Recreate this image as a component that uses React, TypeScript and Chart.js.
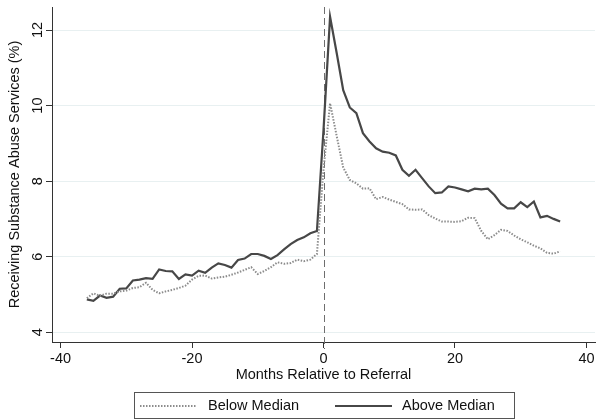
import React, { useEffect, useRef } from "react";
import { Chart, registerables } from "chart.js";

Chart.register(...registerables);

// ---- data ----
const MONTHS = [
  -36, -35, -34, -33, -32, -31, -30, -29, -28, -27, -26, -25, -24, -23, -22, -21, -20, -19, -18,
  -17, -16, -15, -14, -13, -12, -11, -10, -9, -8, -7, -6, -5, -4, -3, -2, -1, 0, 1, 2, 3, 4, 5, 6,
  7, 8, 9, 10, 11, 12, 13, 14, 15, 16, 17, 18, 19, 20, 21, 22, 23, 24, 25, 26, 27, 28, 29, 30, 31,
  32, 33, 34, 35, 36,
];

const BELOW_MEDIAN = [
  4.9, 5.03, 4.96, 5.02, 5.02, 5.08, 5.1, 5.17, 5.19, 5.31, 5.12, 5.03, 5.08, 5.12, 5.17, 5.23,
  5.39, 5.49, 5.5, 5.42, 5.45, 5.47, 5.52, 5.58, 5.65, 5.72, 5.54, 5.62, 5.72, 5.85, 5.81, 5.83,
  5.92, 5.88, 5.92, 6.07, 8.3, 10.06, 9.2, 8.36, 8.03, 7.94, 7.8, 7.81, 7.52, 7.58, 7.51, 7.45,
  7.39, 7.25, 7.24, 7.25, 7.1, 7.01, 6.93, 6.93, 6.92, 6.94, 7.03, 7.02, 6.68, 6.46, 6.57, 6.71,
  6.68, 6.56, 6.46, 6.38, 6.29, 6.22, 6.1, 6.08, 6.14,
];

const ABOVE_MEDIAN = [
  4.87, 4.83, 4.97, 4.91, 4.94, 5.15, 5.16, 5.37, 5.39, 5.43, 5.41, 5.66, 5.62, 5.61, 5.41, 5.53,
  5.5, 5.63, 5.57, 5.71, 5.82, 5.78, 5.71, 5.91, 5.95, 6.07, 6.07, 6.02, 5.94, 6.04, 6.19, 6.33,
  6.44, 6.51, 6.62, 6.68, 9.35, 12.35, 11.4, 10.41, 9.95, 9.8, 9.27, 9.05, 8.87, 8.78, 8.75, 8.68,
  8.3, 8.14, 8.3, 8.08, 7.86, 7.68, 7.7, 7.86, 7.83, 7.78, 7.73, 7.8, 7.78, 7.8, 7.63, 7.4, 7.28,
  7.28, 7.44, 7.31, 7.46, 7.04, 7.08, 7.0, 6.93,
];

const SERIES_LABELS = ["Below Median", "Above Median"];
const X_TICKS = [-40, -20, 0, 20, 40];
const Y_TICKS = [4, 6, 8, 10, 12];
const REFERRAL_MONTH = 0;
const X_TITLE = "Months Relative to Referral";
const Y_TITLE = "Receiving Substance Abuse Services (%)";

// ---- style ----
const FONT_FAMILY = "'Liberation Sans', Arial, Helvetica, sans-serif";
const FONT_SIZE = 14.5;
const TEXT_COLOR = "#111111";
const AXIS_COLOR = "#333333";
const GRID_COLOR = "#e8f0f1";
const DOTTED_COLOR = "#8c8c8c";
const SOLID_COLOR = "#474747";

const SERIES_STYLES = [
  { color: DOTTED_COLOR, width: 2, dash: [1.5, 1.5] },
  { color: SOLID_COLOR, width: 2.2, dash: [] as number[] },
];

const referralLinePlugin = {
  id: "referralLine",
  beforeDatasetsDraw(chart: any) {
    const { ctx, chartArea, scales } = chart;
    const x = Math.round(scales.x.getPixelForValue(REFERRAL_MONTH)) + 0.5;
    ctx.save();
    ctx.strokeStyle = "#6e6e6e";
    ctx.lineWidth = 1;
    ctx.setLineDash([7, 4]);
    ctx.beginPath();
    ctx.moveTo(x, chartArea.top);
    ctx.lineTo(x, chartArea.bottom + 7);
    ctx.stroke();
    ctx.restore();
  },
};

const boxedLegendPlugin = {
  id: "boxedLegend",
  afterDraw(chart: any) {
    const { ctx } = chart;
    const box = { left: 134.5, top: 392.5, width: 380, height: 26 };
    const cy = box.top + box.height / 2 + 0.5;
    const sampleStarts = [140, 335];
    const sampleLen = 57;
    const textStarts = [208, 402];
    ctx.save();
    ctx.fillStyle = "#ffffff";
    ctx.fillRect(box.left, box.top, box.width, box.height);
    ctx.strokeStyle = "#555555";
    ctx.lineWidth = 1;
    ctx.setLineDash([]);
    ctx.strokeRect(box.left, box.top, box.width, box.height);
    chart.data.datasets.forEach((ds: any, i: number) => {
      const st = SERIES_STYLES[i];
      ctx.strokeStyle = st.color;
      ctx.lineWidth = st.width;
      ctx.setLineDash(st.dash);
      ctx.beginPath();
      ctx.moveTo(sampleStarts[i], cy);
      ctx.lineTo(sampleStarts[i] + sampleLen, cy);
      ctx.stroke();
      ctx.setLineDash([]);
      ctx.fillStyle = TEXT_COLOR;
      ctx.font = `${FONT_SIZE}px ${FONT_FAMILY}`;
      ctx.textBaseline = "middle";
      ctx.textAlign = "left";
      ctx.fillText(ds.label, textStarts[i], cy);
    });
    ctx.restore();
  },
};

export default function App() {
  const canvasRef = useRef<HTMLCanvasElement | null>(null);

  useEffect(() => {
    const canvas = canvasRef.current;
    if (!canvas) return;
    const font = { family: FONT_FAMILY, size: FONT_SIZE };
    const seriesValues = [BELOW_MEDIAN, ABOVE_MEDIAN];
    const chart = new Chart(canvas, {
      type: "line",
      data: {
        datasets: seriesValues.map((vals, i) => ({
          label: SERIES_LABELS[i],
          data: MONTHS.map((m, j) => ({ x: m, y: vals[j] })),
          borderColor: SERIES_STYLES[i].color,
          borderWidth: SERIES_STYLES[i].width,
          borderDash: SERIES_STYLES[i].dash,
          pointRadius: 0,
          tension: 0,
          fill: false,
        })),
      },
      options: {
        animation: false,
        responsive: false,
        devicePixelRatio: 1,
        layout: { padding: { left: 0, top: 7, right: 1, bottom: 28 } },
        plugins: {
          legend: { display: false },
          tooltip: { enabled: false },
        },
        scales: {
          x: {
            type: "linear",
            min: -41.3,
            max: 41.3,
            afterBuildTicks: (s: any) => {
              s.ticks = X_TICKS.map((v) => ({ value: v }));
            },
            afterFit: (s: any) => {
              s.height = 50;
              s.paddingLeft = 0;
              s.paddingRight = 0;
            },
            grid: {
              drawOnChartArea: false,
              drawTicks: true,
              tickLength: 6,
              tickColor: AXIS_COLOR,
              lineWidth: 1,
            },
            border: { display: true, color: AXIS_COLOR, width: 1 },
            ticks: {
              includeBounds: false,
              autoSkip: false,
              maxRotation: 0,
              color: TEXT_COLOR,
              font,
              padding: 2,
            },
            title: {
              display: true,
              text: X_TITLE,
              color: TEXT_COLOR,
              font,
              padding: { top: 0, bottom: 8 },
            },
          },
          y: {
            type: "linear",
            min: 3.74,
            max: 12.61,
            afterBuildTicks: (s: any) => {
              s.ticks = Y_TICKS.map((v) => ({ value: v }));
            },
            afterFit: (s: any) => {
              s.width = 52;
              s.paddingTop = 0;
              s.paddingBottom = 0;
            },
            grid: {
              drawOnChartArea: true,
              color: GRID_COLOR,
              lineWidth: 1,
              drawTicks: true,
              tickLength: 6,
              tickColor: AXIS_COLOR,
            },
            border: { display: true, color: AXIS_COLOR, width: 1 },
            ticks: {
              includeBounds: false,
              autoSkip: false,
              minRotation: 90,
              maxRotation: 90,
              crossAlign: "center",
              color: TEXT_COLOR,
              font,
              padding: 0,
            },
            title: {
              display: true,
              text: Y_TITLE,
              color: TEXT_COLOR,
              font,
              padding: { top: 6, bottom: 0 },
            },
          },
        },
      },
      plugins: [referralLinePlugin, boxedLegendPlugin],
    } as any);
    return () => chart.destroy();
  }, []);

  return (
    <div
      style={{
        position: "fixed",
        left: 0,
        top: 0,
        width: 596,
        height: 420,
        background: "#ffffff",
      }}
    >
      <canvas ref={canvasRef} width={596} height={420} style={{ display: "block" }} />
    </div>
  );
}
